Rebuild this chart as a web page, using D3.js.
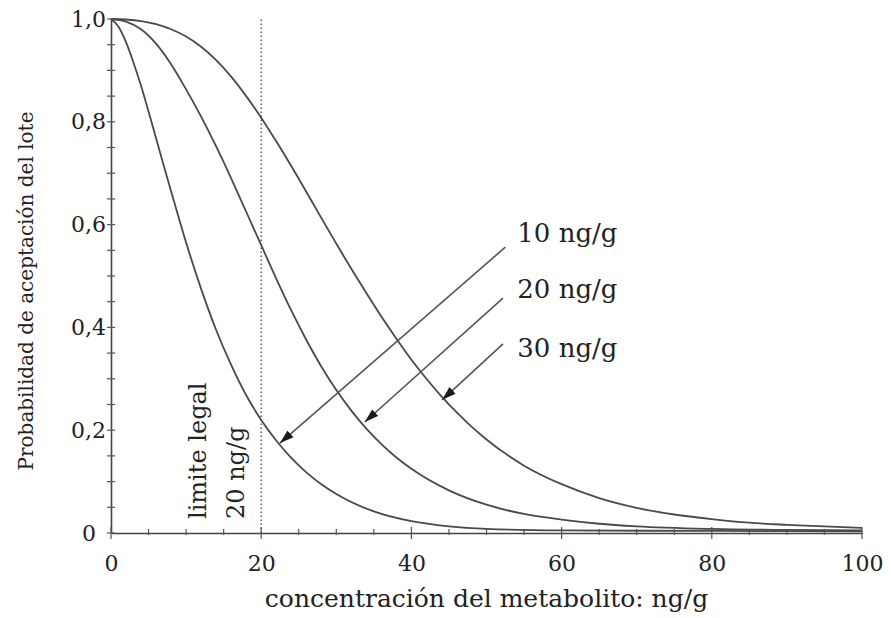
<!DOCTYPE html>
<html>
<head>
<meta charset="utf-8">
<script src="https://cdn.jsdelivr.net/npm/d3@7"></script>
<style>
body { margin: 0; background: #fff; }
text { font-family: "DejaVu Serif", serif; fill: #222; }
</style>
</head>
<body>
<div id="chart"></div>
<script>
// curve for a 10 ng/g sample
var conc10 = [0, 1, 2, 3, 4, 5, 6, 7, 8, 10, 12, 14, 16, 18, 20, 22, 24, 26, 28, 30, 35, 40, 45, 50, 60, 80, 100];
var prob10 = [1.00, 0.985, 0.955, 0.915, 0.87, 0.82, 0.768, 0.716, 0.665, 0.565, 0.475, 0.395, 0.327, 0.268, 0.22, 0.18, 0.146, 0.118, 0.095, 0.076, 0.042, 0.023, 0.013, 0.008, 0.005, 0.004, 0.003];

// curve for a 20 ng/g sample
var conc20 = [0, 2, 4, 6, 8, 10, 12, 14, 16, 18, 20, 22, 24, 26, 28, 30, 32, 34, 36, 38, 40, 45, 50, 55, 60, 65, 70, 80, 90, 100];
var prob20 = [1.00, 0.995, 0.98, 0.952, 0.912, 0.863, 0.81, 0.752, 0.69, 0.625, 0.56, 0.495, 0.433, 0.376, 0.324, 0.278, 0.238, 0.203, 0.173, 0.147, 0.125, 0.083, 0.055, 0.037, 0.026, 0.018, 0.013, 0.008, 0.006, 0.005];

// curve for a 30 ng/g sample
var conc30 = [0, 2, 4, 6, 8, 10, 12, 14, 16, 18, 20, 22, 24, 26, 28, 30, 32, 34, 36, 38, 40, 42, 44, 46, 48, 50, 55, 60, 65, 70, 75, 80, 85, 90, 95, 100];
var prob30 = [1.00, 0.999, 0.996, 0.99, 0.98, 0.966, 0.946, 0.92, 0.888, 0.85, 0.808, 0.762, 0.714, 0.664, 0.613, 0.563, 0.514, 0.467, 0.421, 0.378, 0.337, 0.3, 0.266, 0.235, 0.207, 0.182, 0.131, 0.095, 0.068, 0.049, 0.036, 0.027, 0.02, 0.016, 0.013, 0.01];

var xTicks = [0, 20, 40, 60, 80, 100];
var yTicks = [0, 0.2, 0.4, 0.6, 0.8, 1.0];
var yTickLabels = ["0", "0,2", "0,4", "0,6", "0,8", "1,0"];
var legalLimit = 20;

// arrow annotations (data units)
var curveNames = ["10 ng/g", "20 ng/g", "30 ng/g"];
var arrowFrom = [[52.5, 0.556], [52.2, 0.457], [52.2, 0.368]];
var arrowTo = [[22.5, 0.175], [33.8, 0.216], [44.1, 0.259]];
var nameAt = [[54.1, 0.566], [54.1, 0.457], [54.1, 0.342]];

var margin = {top: 19, right: 29, bottom: 85, left: 111},
    width = 891 - margin.left - margin.right,
    height = 618 - margin.top - margin.bottom;

var x = d3.scaleLinear().domain([0, 100]).range([0, width]);
var y = d3.scaleLinear().domain([0, 1]).range([height, 0]);

var svg = d3.select("#chart").append("svg")
    .attr("width", 891)
    .attr("height", 618)
    .append("g")
    .attr("transform", "translate(" + margin.left + "," + margin.top + ")");

svg.append("defs").append("marker")
    .attr("id", "head")
    .attr("viewBox", "0 0 14 9")
    .attr("refX", 14)
    .attr("refY", 4.5)
    .attr("markerWidth", 14)
    .attr("markerHeight", 9)
    .attr("markerUnits", "userSpaceOnUse")
    .attr("orient", "auto")
    .append("path")
    .attr("d", "M0,0 L14,4.5 L0,9 Z")
    .attr("fill", "#1a1a1a");

// legal limit (dotted)
svg.append("line")
    .attr("x1", x(legalLimit)).attr("x2", x(legalLimit))
    .attr("y1", y(0)).attr("y2", y(1) - 2)
    .attr("stroke", "#666")
    .attr("stroke-width", 1.6)
    .attr("stroke-dasharray", "1.6,2.4");

// axes
var xAxis = svg.append("g")
    .attr("transform", "translate(0," + height + ")")
    .call(d3.axisBottom(x).tickValues(xTicks).tickSize(0).tickPadding(22).tickFormat(d3.format("d")));
var yAxis = svg.append("g")
    .call(d3.axisLeft(y).tickValues(yTicks).tickSize(0).tickPadding(5)
        .tickFormat(function(d, i) { return yTickLabels[i]; }));

[xAxis, yAxis].forEach(function(a) {
    a.select(".domain").attr("stroke", "#444").attr("stroke-width", 1.6);
    a.selectAll("text").style("font-size", "22px").attr("fill", "#222");
});
// the zero on the y axis sits a little further left
yAxis.selectAll(".tick text").filter(function(d) { return d == 0; }).attr("dx", -10);

// tick marks crossing the axes
svg.append("g").selectAll("line")
    .data(d3.range(0, 101, 5))
    .enter().append("line")
    .attr("x1", function(d) { return x(d); })
    .attr("x2", function(d) { return x(d); })
    .attr("y1", function(d) { return height - (d % 20 == 0 ? 6 : 4); })
    .attr("y2", function(d) { return height + (d % 20 == 0 ? 6 : 2); })
    .attr("stroke", "#555")
    .attr("stroke-width", 1.2);

svg.append("g").selectAll("line")
    .data(d3.range(0, 21).map(function(i) { return i / 20; }))
    .enter().append("line")
    .attr("x1", -4)
    .attr("x2", 4)
    .attr("y1", function(d) { return y(d); })
    .attr("y2", function(d) { return y(d); })
    .attr("stroke", "#555")
    .attr("stroke-width", 1.2);

// the three curves
var line = d3.line()
    .x(function(d) { return x(d[0]); })
    .y(function(d) { return y(d[1]); })
    .curve(d3.curveMonotoneX);

[[conc10, prob10], [conc20, prob20], [conc30, prob30]].forEach(function(s) {
    svg.append("path")
        .datum(d3.zip(s[0], s[1]))
        .attr("fill", "none")
        .attr("stroke", "#4a4a4a")
        .attr("stroke-width", 1.8)
        .attr("d", line);
});

// arrows and their labels
svg.selectAll(".arrow")
    .data(curveNames)
    .enter().append("line")
    .attr("class", "arrow")
    .attr("x1", function(d, i) { return x(arrowFrom[i][0]); })
    .attr("y1", function(d, i) { return y(arrowFrom[i][1]); })
    .attr("x2", function(d, i) { return x(arrowTo[i][0]); })
    .attr("y2", function(d, i) { return y(arrowTo[i][1]); })
    .attr("stroke", "#555")
    .attr("stroke-width", 1.6)
    .attr("marker-end", "url(#head)");

svg.selectAll(".name")
    .data(curveNames)
    .enter().append("text")
    .attr("class", "name")
    .attr("x", function(d, i) { return x(nameAt[i][0]); })
    .attr("y", function(d, i) { return y(nameAt[i][1]); })
    .style("font-size", "26px")
    .text(function(d) { return d; });

// vertical notes beside the legal limit
svg.append("text")
    .attr("transform", "translate(" + (x(legalLimit) - 55) + "," + (height - 14) + ") rotate(-90)")
    .style("font-size", "24px")
    .text("limite legal");
svg.append("text")
    .attr("transform", "translate(" + (x(legalLimit) - 17) + "," + (height - 14) + ") rotate(-90)")
    .style("font-size", "24px")
    .text("20 ng/g");

// axis titles
svg.append("text")
    .attr("x", width / 2)
    .attr("y", height + 74)
    .style("text-anchor", "middle")
    .style("font-size", "25px")
    .text("concentración del metabolito: ng/g");

svg.append("text")
    .attr("transform", "translate(" + (-78) + "," + (height / 2 + 15) + ") rotate(-90)")
    .style("text-anchor", "middle")
    .style("font-size", "20px")
    .text("Probabilidad de aceptación del lote");
</script>
</body>
</html>
